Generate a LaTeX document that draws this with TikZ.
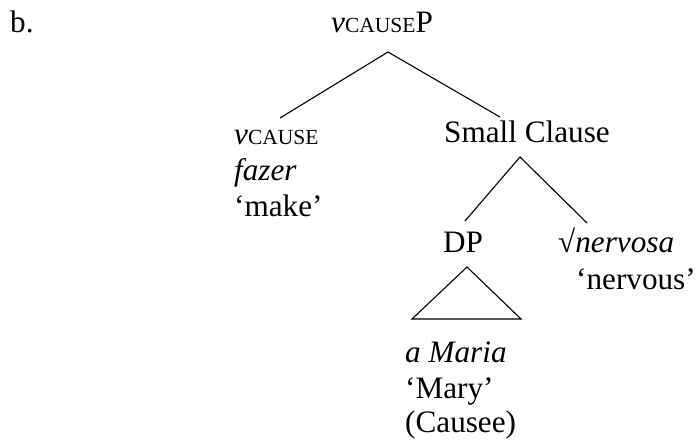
\documentclass[tikz,border=0pt]{standalone}
\usepackage{fontspec}
\setmainfont{Liberation Serif}
\newcommand{\cse}{{\fontsize{21.5}{24}\selectfont CAUSE}}

\begin{document}
\begin{tikzpicture}[x=1pt,y=-1pt,
    word/.style={anchor=base west,inner sep=0pt,font=\fontsize{31.2}{36}\selectfont},
    branch/.style={line width=1.1pt}]
      \useasboundingbox (0,0) rectangle (697,441);
      % labels
      \node[word] (b) at (10,33) {b.};
      \node[word] (vP) at (331,33) {\textit{v}\cse P};
      \node[word] (vC) at (234,145) {\textit{v}\cse};
      \node[word] (fazer) at (234,181) {\textit{fazer}};
      \node[word] (make) at (234,217) {‘make’};
      \node[word] (SC) at (444,143) {Small Clause};
      \node[word] (DP) at (443,253) {DP};
      \node[word] (nerv) at (558,253) {√\textit{nervosa}};
      \node[word] (nervous) at (576,289) {‘nervous’};
      \node[word] (maria) at (405,362) {\textit{a Maria}};
      \node[word] (mary) at (405,398) {‘Mary’};
      \node[word] (causee) at (405,432) {(Causee)};
      % branch ends
      \coordinate (vPtop) at (388,52);
      \coordinate (vCtop) at (280,118);
      \coordinate (SCtop) at (500,117);
      \coordinate (SCbot) at (520,157);
      \coordinate (DPtop) at (465,221);
      \coordinate (nervtop) at (587,223);
      \coordinate (tri) at (467,267);
      \coordinate (triL) at (412,319);
      \coordinate (triR) at (521,319);
      \draw[branch] (vCtop) -- (vPtop) -- (SCtop);
      \draw[branch] (DPtop) -- (SCbot) -- (nervtop);
      \draw[branch] (tri) -- (triL) -- (triR) -- cycle;
    \end{tikzpicture}
\end{document}
